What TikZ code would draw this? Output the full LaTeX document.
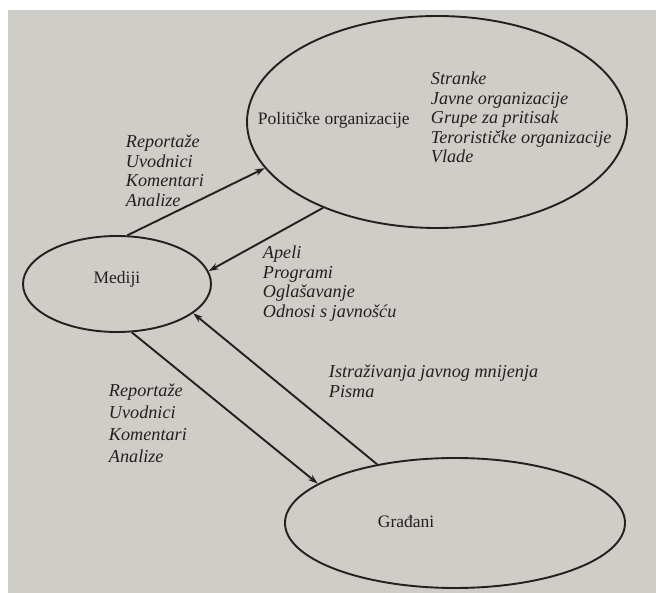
\documentclass[tikz,border=0pt]{standalone}
\usepackage{fontspec}
\setmainfont{Liberation Serif}
\usetikzlibrary{arrows.meta}
\usetikzlibrary{shapes.geometric}
\definecolor{paper}{RGB}{206,205,200}
\definecolor{ink}{RGB}{35,32,30}

\begin{document}
\begin{tikzpicture}[x=1pt, y=-1pt, line width=1.9pt, ink,
    oval/.style={draw, ellipse, inner sep=0pt},
    tekst/.style={font=\fontsize{17.5}{19.5}\selectfont, inner sep=0pt, anchor=base west},
    lista/.style={font=\fontsize{18.2}{19.5}\selectfont\itshape, inner sep=0pt, align=left, anchor=base west},
    strelica/.style={-{Stealth[length=10pt, width=6.5pt]}}]
    \fill[paper] (8,10) rectangle (656,593);
    \useasboundingbox (0,0) rectangle (656,593);
    % ovals
    \node[oval, minimum width=380pt, minimum height=212pt] (pol) at (437,122) {};
    \node[oval, minimum width=188pt, minimum height=96pt] (med) at (117,284) {};
    \node[oval, minimum width=340pt, minimum height=130pt] (gra) at (455,523) {};
    \node[tekst] (polt) at (257,125) {Političke organizacije};
    \node[lista] (pollista) at (430,163) {Stranke\\Javne organizacije\\Grupe za pritisak\\Terorističke organizacije\\Vlade};
    \node[tekst, anchor=base] (medt) at (117,284) {Mediji};
    \node[tekst] (grat) at (377,527) {Građani};
    % labels (anchored at the last line)
    \node[lista] (izvj1) at (125,206.5) {Reportaže\\Uvodnici\\Komentari\\Analize};
    \node[lista] (apeli) at (262,317.5) {Apeli\\Programi\\Oglašavanje\\Odnosi s javnošću};
    \node[lista, font=\fontsize{18.2}{21.7}\selectfont\itshape] (izvj2) at (108,462) {Reportaže\\Uvodnici\\Komentari\\Analize};
    \node[lista] (istr) at (328,397.5) {Istraživanja javnog mnijenja\\Pisma};
    % arrows
    \draw[strelica] (med.78) -- (pol.195);
    \draw[strelica] (pol.217) -- (med.8);
    \draw[strelica] (gra.143) -- (med.-21);
    \draw[strelica] (med.-73) -- (gra.164);
\end{tikzpicture}
\end{document}
